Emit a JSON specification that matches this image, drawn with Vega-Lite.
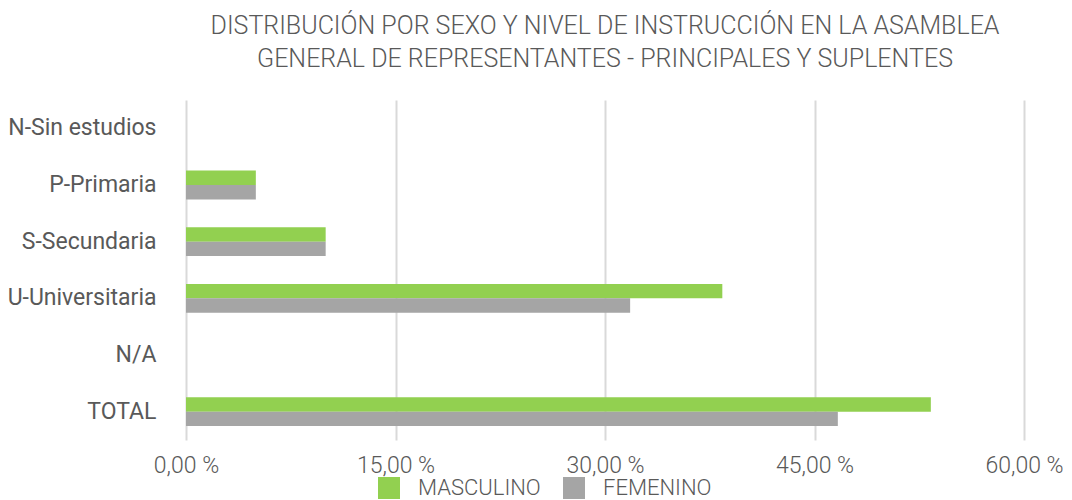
{
  "$schema": "https://vega.github.io/schema/vega-lite/v6.json",
  "autosize": "none",
  "width": 838,
  "height": 340,
  "padding": {"left": 186, "top": 100, "right": 48, "bottom": 60},
  "background": "white",
  "title": {
    "text": ["DISTRIBUCIÓN POR SEXO Y NIVEL DE INSTRUCCIÓN EN LA ASAMBLEA", "GENERAL DE REPRESENTANTES - PRINCIPALES Y SUPLENTES"],
    "font": "Roboto",
    "fontSize": 25,
    "fontWeight": 300,
    "color": "#595959",
    "lineHeight": 33,
    "anchor": "middle",
    "offset": 28
  },
  "data": {
    "values": [
      {"nivel": "N-Sin estudios", "sexo": "MASCULINO", "pct": 0},
      {"nivel": "N-Sin estudios", "sexo": "FEMENINO", "pct": 0},
      {"nivel": "P-Primaria", "sexo": "MASCULINO", "pct": 5.0},
      {"nivel": "P-Primaria", "sexo": "FEMENINO", "pct": 5.0},
      {"nivel": "S-Secundaria", "sexo": "MASCULINO", "pct": 10.0},
      {"nivel": "S-Secundaria", "sexo": "FEMENINO", "pct": 10.0},
      {"nivel": "U-Universitaria", "sexo": "MASCULINO", "pct": 38.4},
      {"nivel": "U-Universitaria", "sexo": "FEMENINO", "pct": 31.8},
      {"nivel": "N/A", "sexo": "MASCULINO", "pct": 0},
      {"nivel": "N/A", "sexo": "FEMENINO", "pct": 0},
      {"nivel": "TOTAL", "sexo": "MASCULINO", "pct": 53.33},
      {"nivel": "TOTAL", "sexo": "FEMENINO", "pct": 46.67}
    ]
  },
  "mark": {"type": "bar"},
  "encoding": {
    "y": {
      "field": "nivel",
      "type": "nominal",
      "sort": ["N-Sin estudios", "P-Primaria", "S-Secundaria", "U-Universitaria", "N/A", "TOTAL"],
      "scale": {"paddingInner": 0.49, "paddingOuter": 0.245},
      "axis": {
        "title": null,
        "domain": false,
        "ticks": false,
        "grid": false,
        "labelFont": "Roboto",
        "labelFontSize": 23,
        "labelFontWeight": 400,
        "labelColor": "#595959",
        "labelPadding": 30
      }
    },
    "yOffset": {
      "field": "sexo",
      "type": "nominal",
      "sort": ["MASCULINO", "FEMENINO"],
      "scale": {"paddingInner": 0}
    },
    "x": {
      "field": "pct",
      "type": "quantitative",
      "scale": {"domain": [0, 60], "nice": false},
      "axis": {
        "title": null,
        "values": [0, 15, 30, 45, 60],
        "domain": false,
        "ticks": false,
        "grid": true,
        "gridColor": "#d9d9d9",
        "gridWidth": 2,
        "labelFlush": false,
        "labelFont": "Roboto",
        "labelFontSize": 23,
        "labelFontWeight": 300,
        "labelColor": "#595959",
        "labelPadding": 14,
        "labelExpr": "replace(format(datum.value, '.2f'), '.', ',') + ' %'"
      }
    },
    "color": {
      "field": "sexo",
      "type": "nominal",
      "sort": ["MASCULINO", "FEMENINO"],
      "scale": {"domain": ["MASCULINO", "FEMENINO"], "range": ["#92d050", "#a5a5a5"]},
      "legend": {
        "title": null,
        "orient": "none",
        "direction": "horizontal",
        "legendX": 192,
        "legendY": 377,
        "symbolType": "square",
        "symbolSize": 484,
        "symbolStrokeWidth": 0,
        "labelFont": "Roboto",
        "labelFontSize": 22,
        "labelFontWeight": 300,
        "labelColor": "#595959",
        "labelOffset": 18,
        "columnPadding": 22
      }
    }
  },
  "config": {"view": {"stroke": null}}
}
